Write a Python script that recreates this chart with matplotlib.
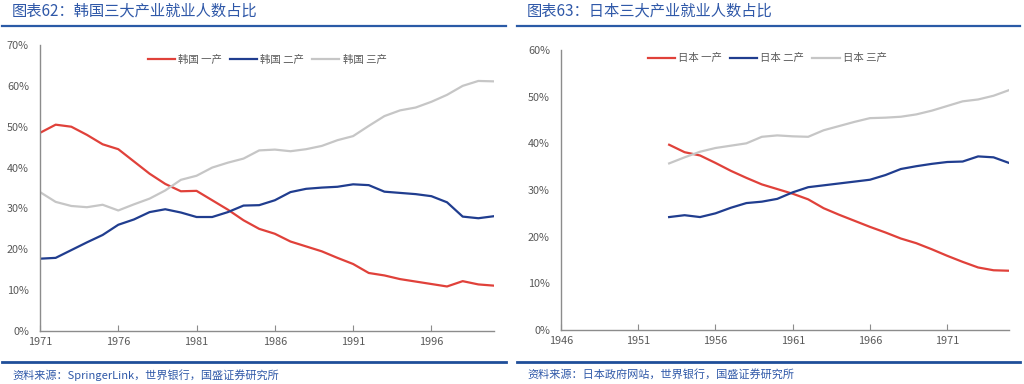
import matplotlib
matplotlib.use("Agg")
import matplotlib.pyplot as plt
from matplotlib.lines import Line2D
from matplotlib.ticker import PercentFormatter

plt.rcParams['font.family'] = ['Noto Sans CJK SC', 'DejaVu Sans']

# Korea, share of employment by sector (%)
kr_years = list(range(1971, 2001))
kr_primary = [48.5, 50.5, 50.0, 48.0, 45.7, 44.5, 41.5, 38.5, 36.0, 34.2,
              34.3, 32.0, 29.7, 27.1, 25.0, 23.8, 21.9, 20.7, 19.5, 17.9,
              16.4, 14.2, 13.6, 12.7, 12.1, 11.5, 10.9, 12.2, 11.4, 11.1]
kr_secondary = [17.7, 17.9, 19.8, 21.7, 23.5, 26.0, 27.3, 29.1, 29.8, 29.0,
                27.9, 27.9, 29.1, 30.7, 30.8, 32.0, 34.0, 34.8, 35.1, 35.3,
                35.9, 35.7, 34.1, 33.8, 33.5, 33.0, 31.5, 28.0, 27.6, 28.1]
kr_tertiary = [34.0, 31.6, 30.6, 30.3, 30.9, 29.5, 31.0, 32.4, 34.4, 37.0,
               38.0, 40.0, 41.2, 42.2, 44.2, 44.4, 44.0, 44.5, 45.3, 46.7,
               47.7, 50.2, 52.6, 54.0, 54.7, 56.1, 57.8, 60.0, 61.2, 61.1]

# Japan, share of employment by sector (%)
jp_years = list(range(1953, 1976))
jp_primary = [39.7, 38.1, 37.4, 35.8, 34.1, 32.6, 31.2, 30.2, 29.2, 28.0,
              26.1, 24.7, 23.4, 22.1, 20.9, 19.6, 18.6, 17.3, 15.9, 14.6,
              13.4, 12.8, 12.7]
jp_secondary = [24.2, 24.6, 24.2, 25.0, 26.2, 27.2, 27.5, 28.1, 29.5, 30.6,
                31.0, 31.4, 31.8, 32.2, 33.2, 34.5, 35.1, 35.6, 36.0, 36.1,
                37.2, 37.0, 35.8]
jp_tertiary = [35.7, 37.0, 38.2, 39.0, 39.5, 40.0, 41.4, 41.7, 41.5, 41.4,
               42.8, 43.7, 44.6, 45.4, 45.5, 45.7, 46.2, 47.0, 48.0, 49.0,
               49.4, 50.2, 51.4]

kr_labels = ["韩国 一产", "韩国 二产", "韩国 三产"]
jp_labels = ["日本 一产", "日本 二产", "日本 三产"]
kr_xticks = [1971, 1976, 1981, 1986, 1991, 1996]
jp_xticks = [1946, 1951, 1956, 1961, 1966, 1971]

RED = "#e0413a"
BLUE = "#203d8f"
GRAY = "#c6c6c6"
TXT = "#595959"
TITLE = "#2f58a8"
RULE = "#2a5aa6"


def style_axis(ax, xlim, ylim, xticks, yticks):
    ax.set_xlim(*xlim)
    ax.set_ylim(*ylim)
    ax.set_xticks(xticks)
    ax.set_yticks(yticks)
    ax.yaxis.set_major_formatter(PercentFormatter(decimals=0))
    for side in ("top", "right"):
        ax.spines[side].set_visible(False)
    for side in ("left", "bottom"):
        ax.spines[side].set_color("#8c8c8c")
        ax.spines[side].set_linewidth(1.0)
    ax.tick_params(axis="x", direction="in", length=4, color="#8c8c8c",
                   labelsize=7.8, labelcolor=TXT, pad=4)
    ax.tick_params(axis="y", length=0, labelsize=7.8, labelcolor=TXT, pad=8)


fig = plt.figure(figsize=(10.24, 3.84), dpi=100)

# left panel: Korea
ax1 = fig.add_axes([40 / 1024, 1 - 331 / 384, 454 / 1024, 286 / 384])
ax1.plot(kr_years, kr_primary, color=RED, lw=1.6, label=kr_labels[0])
ax1.plot(kr_years, kr_secondary, color=BLUE, lw=1.6, label=kr_labels[1])
ax1.plot(kr_years, kr_tertiary, color=GRAY, lw=1.6, label=kr_labels[2])
style_axis(ax1, (1971, 2000), (0, 70), kr_xticks, range(0, 71, 10))
ax1.legend(loc="center", bbox_to_anchor=(0.5, 0.948), ncol=3, frameon=False,
           fontsize=7.5, labelcolor=TXT, handlelength=2.6, columnspacing=0.8,
           handletextpad=0.3)

# right panel: Japan
ax2 = fig.add_axes([561 / 1024, 1 - 330 / 384, 448 / 1024, 280 / 384])
ax2.plot(jp_years, jp_primary, color=RED, lw=1.6, label=jp_labels[0])
ax2.plot(jp_years, jp_secondary, color=BLUE, lw=1.6, label=jp_labels[1])
ax2.plot(jp_years, jp_tertiary, color=GRAY, lw=1.6, label=jp_labels[2])
style_axis(ax2, (1946, 1975), (0, 60), jp_xticks, range(0, 61, 10))
ax2.legend(loc="center", bbox_to_anchor=(0.46, 0.97), ncol=3, frameon=False,
           fontsize=7.5, labelcolor=TXT, handlelength=2.6, columnspacing=0.8,
           handletextpad=0.3)

# titles, rules and sources
fig.text(12 / 1024, 1 - 11 / 384, "图表62：韩国三大产业就业人数占比", color=TITLE,
         fontsize=11, style="italic", va="center", ha="left")
fig.text(527 / 1024, 1 - 11 / 384, "图表63：日本三大产业就业人数占比", color=TITLE,
         fontsize=11, style="italic", va="center", ha="left")
for x0, x1 in ((2, 506), (517, 1020)):
    fig.add_artist(Line2D([x0 / 1024, x1 / 1024], [1 - 26 / 384] * 2,
                          color=RULE, lw=1.6))
    fig.add_artist(Line2D([x0 / 1024, x1 / 1024], [1 - 362 / 384] * 2,
                          color="#1f4e99", lw=2.0))
fig.text(12 / 1024, 1 - 375 / 384, "资料来源：SpringerLink，世界银行，国盛证券研究所",
         color=TITLE, fontsize=8, style="italic", va="center", ha="left")
fig.text(527 / 1024, 1 - 375 / 384, "资料来源：日本政府网站，世界银行，国盛证券研究所",
         color=TITLE, fontsize=8, style="italic", va="center", ha="left")

fig.savefig("out.png", dpi=100)
